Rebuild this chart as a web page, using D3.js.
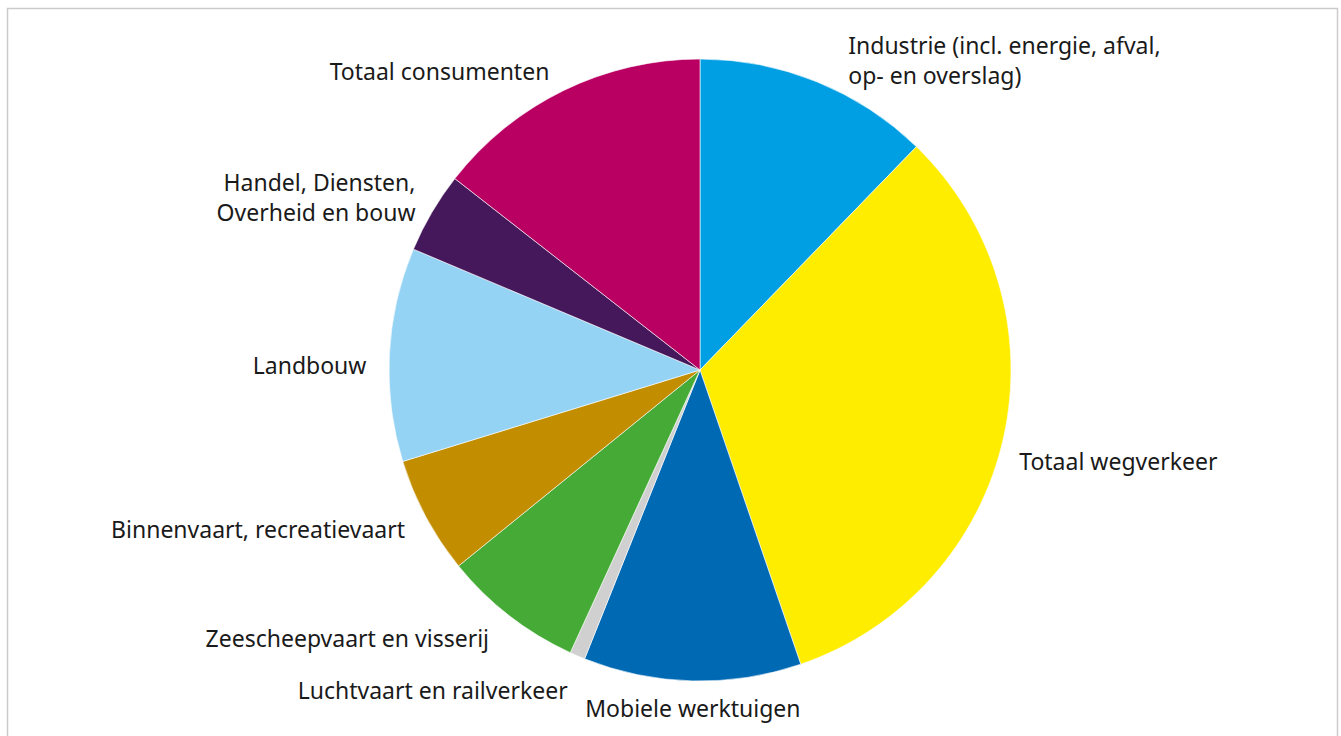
<!DOCTYPE html>
<html>
<head>
<meta charset="utf-8">
<script src="https://cdn.jsdelivr.net/npm/d3@7"></script>
<style>
  html, body { margin: 0; padding: 0; background: #fff; }
  svg { display: block; }
  text { font-family: "Noto Sans", "Open Sans", sans-serif; font-size: 23px; fill: #1a1a1a; }
</style>
</head>
<body>
<svg id="chart" width="1341" height="736"></svg>
<script>
// Data (estimated shares, %)
const categories = [
  "Industrie (incl. energie, afval,|op- en overslag)",
  "Totaal wegverkeer",
  "Mobiele werktuigen",
  "Luchtvaart en railverkeer",
  "Zeescheepvaart en visserij",
  "Binnenvaart, recreatievaart",
  "Landbouw",
  "Handel, Diensten,|Overheid en bouw",
  "Totaal consumenten"
];
const values = [12.25, 32.5, 11.3, 0.8, 7.3, 6.1, 11.1, 4.2, 14.45];
const colors = ["#009fe3", "#ffed00", "#0069b4", "#d0d0d0", "#46ab36", "#c28e00", "#94d3f4", "#45185c", "#b90062"];

// label layout tweaks (kept separate from data)
const labelAnchor = ["start", "start", "middle", "end", "end", "end", "end", "end", "end"];
const labelNudge = [[27, -2], [4, 30], [1, 24], [-5, 32], [-13, 22], [-10, 16], [-11, 20], [-6, 0], [-9, 0]];

const W = 1341, H = 736;
const svg = d3.select("#chart");

// frame
svg.append("rect")
  .attr("x", 7.5).attr("y", 8.5)
  .attr("width", 1330).attr("height", 760)
  .attr("fill", "none").attr("stroke", "#cbcbcb").attr("stroke-width", 1.5);

const cx = 700, cy = 370, r = 311;
const g = svg.append("g").attr("transform", `translate(${cx},${cy})`);

const pie = d3.pie().sort(null).value(d => d.v);
const data = categories.map((c, i) => ({ c, v: values[i], color: colors[i], i }));
const arcs = pie(data);

const arc = d3.arc().innerRadius(0).outerRadius(r);
g.selectAll("path.slice")
  .data(arcs)
  .enter().append("path")
  .attr("class", "slice")
  .attr("d", arc)
  .attr("fill", d => d.data.color)
  .attr("stroke", "#ffffff")
  .attr("stroke-width", 0.6);

const labelArc = d3.arc().innerRadius(r + 12).outerRadius(r + 12);
arcs.forEach(d => {
  const [x, y] = labelArc.centroid(d);
  const i = d.data.i;
  const lines = d.data.c.split("|");
  const t = g.append("text")
    .attr("text-anchor", labelAnchor[i])
    .attr("x", x + labelNudge[i][0])
    .attr("y", y + labelNudge[i][1] - (lines.length - 1) * 15);
  lines.forEach((ln, k) => {
    t.append("tspan")
      .attr("x", x + labelNudge[i][0])
      .attr("dy", k === 0 ? 0 : 30)
      .text(ln);
  });
});
</script>
</body>
</html>
